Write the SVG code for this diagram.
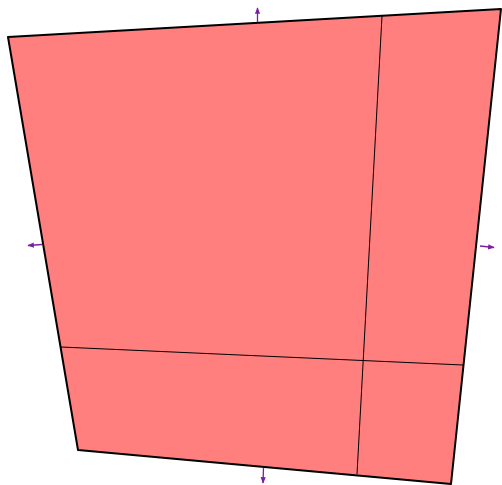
<svg xmlns="http://www.w3.org/2000/svg" width="502" height="485" viewBox="0 0 502 485">
<defs>
<style>
.face{fill:#ff7f7f;stroke:#000;stroke-width:2;stroke-linejoin:round}
.div{fill:none;stroke:#000;stroke-width:1}
.arr{stroke:#7a1fa0;stroke-width:1.3;fill:none;marker-end:url(#ah)}
</style>
<marker id="ah" viewBox="0 0 10 10" refX="9" refY="5" markerWidth="5" markerHeight="5" orient="auto">
<path d="M0,1 L10,5 L0,9 Z" fill="#7a1fa0"/>
</marker>
</defs>
<g id="face">
<polygon class="face" points="8,37 501,9 451,484 78,450"/>
</g>
<g id="connectors">
<line class="div" x1="382" y1="16" x2="357" y2="474"/>
<line class="div" x1="61" y1="347" x2="463" y2="365"/>
<line class="arr" x1="257.5" y1="22" x2="257.5" y2="8"/>
<line class="arr" x1="42" y1="244.5" x2="28" y2="245.5"/>
<line class="arr" x1="480" y1="246" x2="494" y2="247.5"/>
<line class="arr" x1="263.5" y1="468" x2="263" y2="483"/>
</g>
</svg>
